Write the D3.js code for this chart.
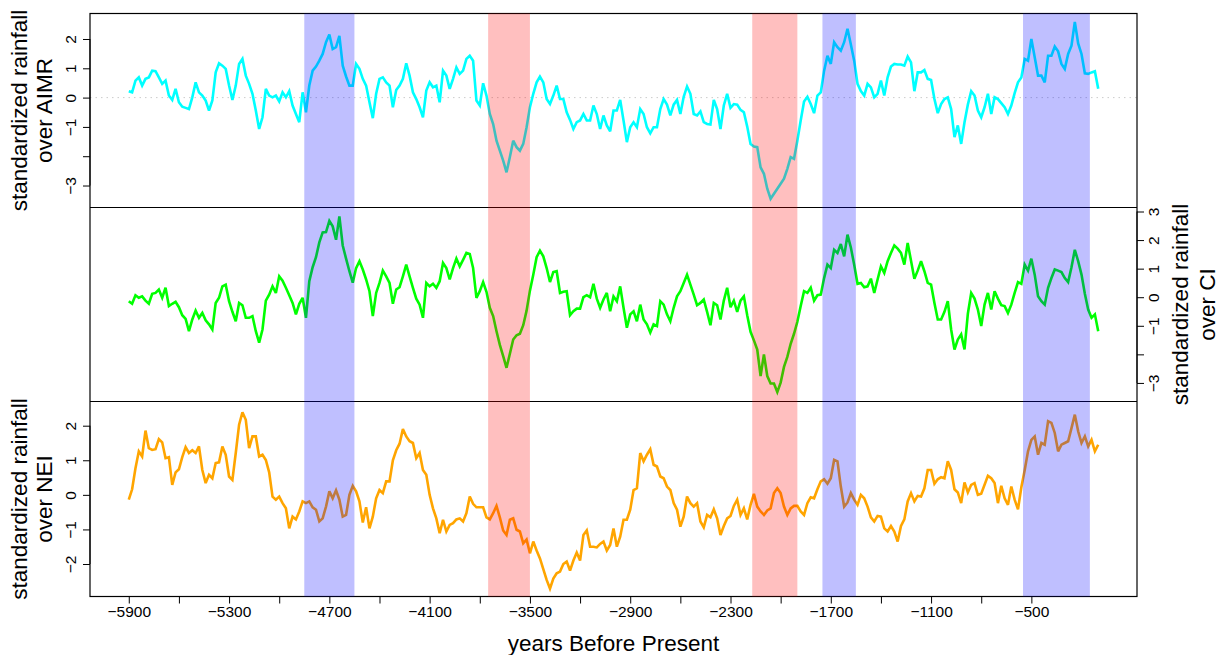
<!DOCTYPE html>
<html>
<head>
<meta charset="utf-8">
<script src="https://cdn.jsdelivr.net/npm/d3@7"></script>
<style>
  html, body { margin: 0; padding: 0; background: #ffffff; }
  svg { display: block; font-family: "Liberation Sans", Arial, Helvetica, sans-serif; }
</style>
</head>
<body>
<svg id="chart" width="1220" height="655"></svg>
<script>
// Standardized rainfall reconstructions, one value every 20 years from 5900 BP
const startYear = -5900;
const yearStep = 20;

const aimr = [
  0.22,0.18,0.58,0.69,0.41,0.64,0.69,0.92,0.90,0.69,
  0.47,0.58,0.07,-0.08,0.30,-0.16,-0.31,-0.35,-0.39,0.01,
  0.52,0.18,0.07,-0.10,-0.44,-0.10,0.86,1.17,1.09,0.98,
  0.41,-0.08,0.41,1.15,1.32,0.75,0.47,0.13,-0.44,-1.07,
  -0.67,0.30,0.07,0.01,0.07,-0.13,0.18,0.01,0.22,-0.27,
  -0.56,-0.84,0.18,-0.50,0.41,0.92,1.06,1.26,1.49,1.89,
  2.15,1.66,1.72,2.11,1.09,0.72,0.41,0.41,1.15,0.98,
  0.64,0.41,-0.16,-0.70,0.13,0.64,0.69,0.52,0.41,-0.33,
  0.26,0.41,0.64,1.17,0.75,0.18,-0.05,-0.33,-0.67,0.24,
  0.52,0.35,0.41,-0.16,
  0.92,0.75,0.30,0.64,1.03,0.81,0.92,1.32,1.43,1.26,
  -0.10,-0.27,0.49,0.07,-0.56,-0.90,-1.47,-1.81,-2.15,-2.55,
  -2.03,-1.47,-1.69,-1.81,-1.58,-1.01,-0.33,0.13,0.52,0.72,
  0.52,-0.05,-0.22,0.07,0.41,-0.05,-0.05,-0.50,-0.76,-1.07,
  -0.84,-0.78,-0.56,-0.78,-0.78,-0.27,-0.56,-1.07,-0.61,-0.95,
  -1.15,-0.44,-0.44,-0.08,-0.78,-1.52,-1.01,-0.84,-1.01,-0.39,
  -0.56,-1.01,-1.22,-1.01,-1.01,-0.39,-0.05,-0.24,-0.61,-0.24,
  -0.08,-0.56,0.03,0.38,0.13,-0.56,-0.61,-0.47,-0.84,-0.90,
  -0.92,-0.08,-0.39,-1.07,-0.27,0.13,-0.35,-0.22,-0.24,-0.42,
  -0.50,-0.99,-1.58,-1.67,-1.69,-2.38,-2.60,-3.11,-3.45,-3.28,
  -3.11,-2.94,-2.77,-2.43,-2.03,-2.09,-1.47,
  -0.78,-0.13,0.03,-0.22,-0.53,0.07,0.18,0.92,1.43,1.15,
  1.89,1.72,1.60,1.89,2.35,1.81,1.26,0.47,0.22,0.07,
  0.47,0.35,0.01,0.13,0.58,0.07,0.69,1.06,1.15,1.13,
  1.13,1.09,1.40,1.20,0.22,0.86,0.86,0.94,0.64,0.60,
  -0.05,-0.53,-0.22,-0.05,0.01,-0.39,-1.35,-0.95,-1.58,-0.84,
  -0.24,0.22,0.07,-0.44,-0.67,-0.33,0.13,-0.56,0.01,-0.05,
  -0.19,-0.33,-0.56,-0.27,0.15,0.52,0.69,1.32,1.26,2.00,
  1.38,0.75,0.75,0.52,1.43,1.43,1.74,1.58,1.15,0.98,
  1.49,1.77,2.58,1.85,1.49,0.83,0.81,0.86,0.90,0.30
];

const ci = [
  -0.14,-0.23,0.07,-0.02,0.03,-0.12,-0.23,0.12,0.15,0.27,
  -0.02,0.33,-0.31,-0.23,-0.16,-0.35,-0.63,-0.76,-1.19,-0.78,
  -0.47,-0.72,-0.55,-0.81,-0.95,-1.13,-0.20,-0.02,0.38,0.44,
  -0.14,-0.51,-0.84,-0.20,-0.28,-0.72,-0.72,-0.66,-1.19,-1.59,
  -1.13,-0.12,0.09,0.38,0.15,0.73,0.58,0.33,0.07,-0.20,
  -0.60,-0.23,-0.02,-0.72,0.56,1.05,1.40,1.92,2.27,2.28,
  2.67,2.48,2.01,2.83,1.81,1.35,0.91,0.51,1.02,1.26,
  0.97,0.62,0.21,-0.66,0.15,0.50,0.93,0.73,0.50,-0.23,
  0.27,0.35,0.73,1.14,0.73,0.33,-0.05,-0.26,-0.72,0.50,
  0.38,0.47,0.33,0.56,
  1.20,1.02,0.62,1.02,1.35,1.08,1.31,1.55,1.51,1.02,
  -0.02,0.21,0.53,0.19,-0.37,-0.66,-1.19,-1.67,-2.06,-2.47,
  -1.98,-1.48,-1.33,-1.28,-0.98,-0.47,0.23,0.79,1.40,1.63,
  1.43,1.02,0.53,0.88,0.91,0.15,0.19,0.21,-0.63,-0.49,
  -0.40,-0.40,0.00,0.07,0.00,0.47,-0.05,-0.37,-0.08,0.15,
  -0.49,0.03,-0.14,0.38,-0.37,-1.07,-0.60,-0.49,-0.84,-0.26,
  -0.78,-0.95,-1.24,-0.95,-1.01,-0.14,-0.26,-0.60,-0.84,-0.37,
  0.03,0.21,0.50,0.79,0.44,0.09,-0.28,-0.20,-0.08,-0.51,
  -0.98,-0.20,-0.28,-0.78,-0.12,0.33,-0.35,-0.12,-0.51,-0.12,
  0.03,-0.63,-1.21,-1.51,-1.83,-2.76,-2.00,-2.76,-3.02,-3.02,
  -3.32,-2.99,-2.44,-2.09,-1.63,-1.28,-0.86,
  -0.31,0.21,0.15,0.33,-0.12,0.07,0.09,0.67,1.14,1.02,
  1.66,1.55,1.86,1.43,2.19,1.74,1.14,0.47,0.50,0.35,
  0.38,0.65,0.15,0.62,1.08,0.85,1.26,1.55,1.81,1.70,
  1.55,1.14,1.90,1.28,0.65,0.93,1.26,0.91,0.50,0.44,
  -0.20,-0.78,-0.78,-0.51,-0.14,-1.13,-1.83,-1.48,-1.30,-1.83,
  -0.58,0.15,-0.05,-0.43,-1.01,-0.26,0.15,-0.43,0.21,-0.05,
  -0.28,-0.31,-0.55,-0.26,0.15,0.53,0.47,1.14,0.93,1.35,
  0.79,0.03,-0.14,-0.26,0.33,0.67,0.97,0.93,0.88,0.67,
  0.53,1.05,1.66,1.26,0.79,0.12,-0.43,-0.72,-0.60,-1.19
];

const nei = [
  -0.14,0.16,0.77,1.26,1.11,1.86,1.35,1.30,1.32,1.61,
  1.52,1.06,1.09,0.29,0.65,0.74,1.09,1.38,1.21,1.29,
  1.21,1.40,0.72,0.34,0.58,0.48,0.92,0.94,1.40,1.16,
  0.53,0.43,1.21,2.03,2.39,2.17,1.35,1.69,1.69,1.11,
  1.16,1.01,0.65,-0.05,-0.14,-0.05,-0.24,-0.39,-0.97,-0.63,
  -0.71,-0.48,-0.19,-0.24,-0.19,-0.36,-0.43,-0.77,-0.68,-0.34,
  0.10,-0.10,0.13,-0.14,-0.63,-0.58,0.00,0.26,0.10,-0.19,
  -0.80,-0.36,-0.97,-0.63,-0.10,0.14,0.05,0.39,0.39,1.00,
  1.29,1.48,1.90,1.69,1.55,1.50,1.06,1.21,0.72,0.58,
  0.00,-0.39,-0.68,-1.11,
  -0.72,-1.06,-0.87,-0.82,-0.71,-0.68,-0.77,-0.53,-0.05,-0.26,
  -0.36,-0.36,-0.36,-0.65,-0.71,-0.53,-0.32,-0.65,-1.03,-1.16,
  -0.72,-0.68,-1.01,-1.06,-1.40,-1.29,-1.69,-1.35,-1.61,-1.84,
  -2.15,-2.46,-2.71,-2.42,-2.27,-2.22,-2.00,-1.93,-2.19,-1.90,
  -1.67,-1.90,-1.16,-1.03,-1.50,-1.50,-1.52,-1.42,-1.35,-1.61,
  -1.45,-0.97,-1.50,-1.21,-0.72,-0.72,-0.43,0.14,0.19,1.21,
  0.97,1.16,1.32,0.87,0.82,0.53,0.48,0.24,0.14,-0.24,
  -0.43,-0.92,-0.63,-0.05,-0.24,-0.34,-0.24,-0.77,-0.94,-0.58,
  -0.65,-0.42,-0.68,-1.16,-0.90,-0.68,-0.61,-0.32,-0.14,-0.58,
  -0.39,-0.71,-0.29,0.03,-0.34,-0.48,-0.58,-0.45,-0.39,0.05,
  0.19,0.05,-0.34,-0.58,-0.39,-0.32,-0.32,
  -0.48,-0.58,-0.24,-0.07,-0.10,0.16,0.39,0.45,0.32,0.48,
  1.01,0.97,0.24,-0.34,-0.22,0.05,-0.14,-0.29,0.00,-0.10,
  -0.34,-0.65,-0.77,-0.61,-0.63,-0.97,-1.06,-0.90,-1.06,-1.35,
  -0.90,-0.71,-0.19,0.05,-0.19,-0.03,-0.05,0.19,0.72,0.72,
  0.32,0.45,0.51,0.48,0.97,0.72,0.16,0.07,-0.24,0.36,
  0.07,0.29,0.34,0.00,0.03,0.29,0.55,0.48,0.34,-0.24,
  0.26,-0.10,-0.29,0.24,-0.14,-0.42,0.22,0.71,1.26,1.59,
  1.69,1.16,1.50,1.45,2.13,2.08,1.79,1.26,1.45,1.50,
  1.55,1.93,2.32,1.84,1.50,1.69,1.40,1.59,1.26,1.45
];

// Wet (blue) and dry (red) episodes, years BP
const bandStart = [-4850, -3750, -2170, -1750, -550];
const bandEnd   = [-4550, -3500, -1900, -1550, -150];
const bandType  = ["wet", "dry", "dry", "wet", "wet"];

// Time axis ticks: every 300 years, labelled every 600
const xTickValues = d3.range(-5900, -499, 300);
const xLabelEvery = 600;

const years = aimr.map((_, i) => startYear + i * yearStep);

// ---- layout ----
const plotLeft = 90, plotRight = 1137;
const plotTop = 13.5, plotBottom = 596.5;
const svg = d3.select("#chart");

const x = d3.scaleLinear().domain([-6132, 132]).range([plotLeft, plotRight]);

const panels = [
  { values: aimr, color: "#00ffff", domain: [-3.75, 2.87], top: 13.5, bottom: 207.5,
    side: "left", ticks: [-3, -2, -1, 0, 1, 2], unlabelled: [-2],
    title: ["standardized rainfall", "over AIMR"], zeroLine: true },
  { values: ci, color: "#00ff00", domain: [-3.65, 3.14], top: 207.5, bottom: 401.5,
    side: "right", ticks: [-3, -2, -1, 0, 1, 2, 3], unlabelled: [-2],
    title: ["standardized rainfall", "over CI"], zeroLine: false },
  { values: nei, color: "#ffa500", domain: [-2.94, 2.70], top: 401.5, bottom: 596.5,
    side: "left", ticks: [-2, -1, 0, 1, 2], unlabelled: [],
    title: ["standardized rainfall", "over NEI"], zeroLine: false }
];

const fmt = v => (v < 0 ? "\u2212" + Math.abs(v) : String(v));

panels.forEach(p => {
  const y = d3.scaleLinear().domain(p.domain).range([p.bottom, p.top]);

  if (p.zeroLine) {
    svg.append("line")
      .attr("x1", plotLeft).attr("x2", plotRight)
      .attr("y1", y(0)).attr("y2", y(0))
      .attr("stroke", "#cccccc").attr("stroke-width", 1)
      .attr("stroke-dasharray", "1.5,4");
  }

  const line = d3.line()
    .x((d, i) => x(years[i]))
    .y(d => y(d));

  svg.append("path")
    .datum(p.values)
    .attr("fill", "none")
    .attr("stroke", p.color)
    .attr("stroke-width", 2.6)
    .attr("stroke-linejoin", "miter")
    .attr("stroke-miterlimit", 3)
    .attr("d", line);

  // y axis
  const axis = (p.side === "left" ? d3.axisLeft(y) : d3.axisRight(y))
    .tickValues(p.ticks)
    .tickSize(7)
    .tickSizeOuter(0)
    .tickFormat(v => p.unlabelled.includes(v) ? "" : fmt(v));

  const axisX = p.side === "left" ? plotLeft : plotRight;
  const g = svg.append("g")
    .attr("transform", `translate(${axisX},0)`)
    .call(axis);
  g.select(".domain").attr("stroke", "#000")
    .attr("d", `M0,${y(p.ticks[0])}V${y(p.ticks[p.ticks.length - 1])}`);
  g.selectAll(".tick line").attr("stroke", "#000");
  g.selectAll(".tick text")
    .attr("x", null).attr("dy", null)
    .attr("fill", "#000")
    .style("font-size", "15.5px")
    .attr("text-anchor", "middle")
    .attr("transform", p.side === "left" ? "translate(-14,0) rotate(-90)" : "translate(22,0) rotate(-90)");

  // y title, two lines
  const cy = (p.top + p.bottom) / 2;
  const baseX = p.side === "left" ? [27, 52] : [1188, 1215];
  p.title.forEach((t, i) => {
    svg.append("text")
      .attr("transform", `translate(${baseX[i]},${cy}) rotate(-90)`)
      .attr("text-anchor", "middle")
      .style("font-size", "22.5px")
      .attr("fill", "#000")
      .text(t);
  });
});

// x axis
const xAxis = d3.axisBottom(x)
  .tickValues(xTickValues)
  .tickSize(7)
  .tickSizeOuter(0)
  .tickFormat(v => ((v - xTickValues[0]) % xLabelEvery === 0 ? fmt(v) : ""));
const gx = svg.append("g")
  .attr("transform", `translate(0,${plotBottom})`)
  .call(xAxis);
gx.select(".domain").remove();
gx.selectAll(".tick line").attr("stroke", "#000");
gx.selectAll(".tick text")
  .attr("y", 20.5).attr("dy", null)
  .attr("fill", "#000")
  .style("font-size", "15.5px");

svg.append("text")
  .attr("x", (plotLeft + plotRight) / 2)
  .attr("y", 651)
  .attr("text-anchor", "middle")
  .style("font-size", "22.5px")
  .attr("fill", "#000")
  .text("years Before Present");

// frame and panel separators
svg.append("rect")
  .attr("x", plotLeft).attr("y", plotTop)
  .attr("width", plotRight - plotLeft).attr("height", plotBottom - plotTop)
  .attr("fill", "none").attr("stroke", "#000").attr("stroke-width", 1.2);
[panels[0].bottom, panels[1].bottom].forEach(yy => {
  svg.append("line")
    .attr("x1", plotLeft).attr("x2", plotRight)
    .attr("y1", yy).attr("y2", yy)
    .attr("stroke", "#000").attr("stroke-width", 1.2);
});

// translucent episode bands over everything
const bandColor = { wet: "#0000ff", dry: "#ff0000" };
svg.append("g").selectAll("rect")
  .data(bandStart.map((s, i) => ({ s, e: bandEnd[i], type: bandType[i] })))
  .join("rect")
  .attr("x", d => x(d.s))
  .attr("width", d => x(d.e) - x(d.s))
  .attr("y", plotTop)
  .attr("height", plotBottom - plotTop)
  .attr("fill", d => bandColor[d.type])
  .attr("fill-opacity", 0.25);
</script>
</body>
</html>
